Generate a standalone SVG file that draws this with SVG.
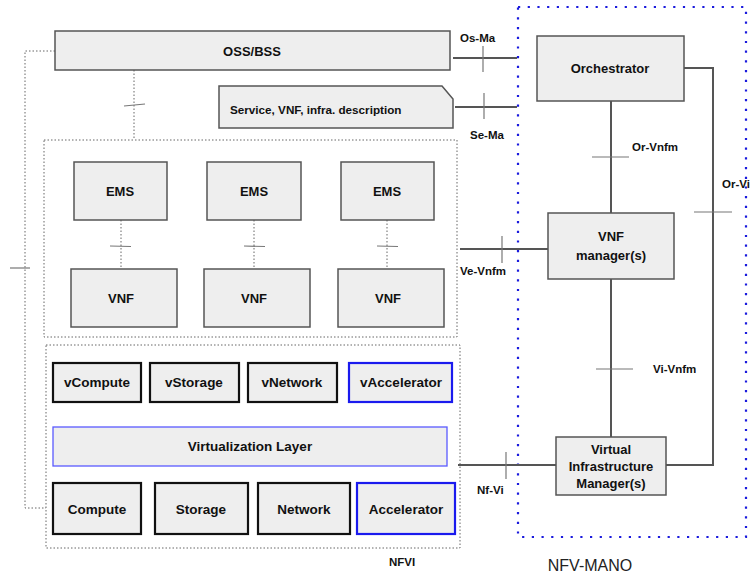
<svg xmlns="http://www.w3.org/2000/svg" width="750" height="576" viewBox="0 0 750 576">
<style>
text{font-family:"Liberation Sans",Arial,sans-serif;font-weight:bold;fill:#111;text-anchor:middle}
.box{fill:#eeeeee;stroke:#555;stroke-width:1.5}
.hw{fill:#eeeeee;stroke:#111;stroke-width:2.2}
.hwb{fill:#eeeeee;stroke:#1a1aee;stroke-width:2.2}
.vl{fill:#eeeeee;stroke:#5a5aff;stroke-width:1.3}
.dot{fill:none;stroke:#666;stroke-width:1;stroke-dasharray:1.5 2}
.mano{fill:none;stroke:#1a1add;stroke-width:2.2;stroke-dasharray:2.2 7.5}
.con{fill:none;stroke:#555;stroke-width:2}
.tick{fill:none;stroke:#777;stroke-width:1.2}
.lbl{font-size:11.5px;text-anchor:start}
.t12{font-size:13px}
.t13{font-size:13.5px}
</style>
<rect class="mano" x="518" y="7" width="228" height="530"/>
<text x="590" y="571" style="font-weight:normal;font-size:16px;fill:#222">NFV-MANO</text>
<rect class="dot" x="44" y="140" width="413" height="197"/>
<rect class="dot" x="46" y="345" width="414" height="203"/>
<text class="lbl" x="389" y="566">NFVI</text>
<g id="connectors">
<path class="dot" d="M55 51 H25 V508 H46"/>
<path class="tick" d="M10 268 H30"/>
<path class="dot" d="M134 70 V140"/>
<path class="tick" d="M124 106 L145 104"/>
<path class="dot" d="M121 220 V269"/>
<path class="tick" d="M110 246 L131 246.5"/>
<path class="dot" d="M254 220 V269"/>
<path class="tick" d="M244 246 L265 246.5"/>
<path class="dot" d="M387 220 V269"/>
<path class="tick" d="M377 246 L398 246.5"/>
<path class="con" d="M453 58 H517"/>
<path class="tick" d="M483 46 V72"/>
<path class="con" d="M455 107 H517"/>
<path class="tick" d="M484 93 V119"/>
<path class="con" d="M611 101 V213"/>
<path class="tick" d="M592 157 H629"/>
<path class="con" d="M684 68 H713 V465 H666"/>
<path class="tick" d="M694 212 H732"/>
<path class="con" d="M460 249 H548"/>
<path class="tick" d="M502 236 V263"/>
<path class="con" d="M611 279 V437"/>
<path class="tick" d="M596 369 H633"/>
<path class="con" d="M458 465 H556"/>
<path class="tick" d="M506 452 V479"/>
<text class="lbl" x="460" y="42">Os-Ma</text>
<text class="lbl" x="470" y="139">Se-Ma</text>
<text class="lbl" x="632" y="151">Or-Vnfm</text>
<text class="lbl" x="722" y="188">Or-Vi</text>
<text class="lbl" x="460" y="275">Ve-Vnfm</text>
<text class="lbl" x="653" y="373">Vi-Vnfm</text>
<text class="lbl" x="477" y="494">Nf-Vi</text>
</g>
<g id="oss"><rect class="box" x="55" y="31" width="395" height="39"/><text class="t12" x="252" y="56">OSS/BSS</text></g>
<g id="desc"><path class="box" d="M219 86 H442 L453 99 V128 H219 Z"/><text style="font-size:11.7px;text-anchor:start" x="230" y="114">Service, VNF, infra. description</text></g>
<g id="orch"><rect class="box" x="537" y="36" width="147" height="65"/><text class="t12" x="610" y="73">Orchestrator</text></g>
<g id="vnfm"><rect class="box" x="548" y="213" width="126" height="66"/><text class="t12" x="611" y="241">VNF</text><text class="t12" x="611" y="260">manager(s)</text></g>
<g id="vim"><rect class="box" x="556" y="437" width="110" height="58"/><text class="t12" x="611" y="454">Virtual</text><text class="t12" x="611" y="471">Infrastructure</text><text class="t12" x="611" y="488">Manager(s)</text></g>
<g id="ems1"><rect class="box" x="74" y="162" width="93" height="58"/><text class="t12" x="120" y="196">EMS</text></g>
<g id="ems2"><rect class="box" x="207" y="162" width="94" height="58"/><text class="t12" x="254" y="196">EMS</text></g>
<g id="ems3"><rect class="box" x="341" y="162" width="93" height="58"/><text class="t12" x="387" y="196">EMS</text></g>
<g id="vnf1"><rect class="box" x="71" y="269" width="106" height="58"/><text class="t12" x="121" y="303">VNF</text></g>
<g id="vnf2"><rect class="box" x="204" y="269" width="106" height="58"/><text class="t12" x="254" y="303">VNF</text></g>
<g id="vnf3"><rect class="box" x="338" y="269" width="106" height="58"/><text class="t12" x="388" y="303">VNF</text></g>
<g id="vcompute"><rect class="hw" x="53" y="363" width="88" height="39"/><text class="t13" x="97" y="387">vCompute</text></g>
<g id="vstorage"><rect class="hw" x="150" y="363" width="89" height="39"/><text class="t13" x="194" y="387">vStorage</text></g>
<g id="vnetwork"><rect class="hw" x="248" y="363" width="89" height="39"/><text class="t13" x="292" y="387">vNetwork</text></g>
<g id="vaccel"><rect class="hwb" x="349" y="363" width="103" height="39"/><text class="t13" x="401" y="387">vAccelerator</text></g>
<g id="virt"><rect class="vl" x="53" y="427" width="394" height="39"/><text class="t13" x="250" y="451">Virtualization Layer</text></g>
<g id="compute"><rect class="hw" x="53" y="483" width="88" height="51"/><text class="t13" x="97" y="514">Compute</text></g>
<g id="storage"><rect class="hw" x="155" y="483" width="93" height="51"/><text class="t13" x="201" y="514">Storage</text></g>
<g id="network"><rect class="hw" x="258" y="483" width="92" height="51"/><text class="t13" x="304" y="514">Network</text></g>
<g id="accel"><rect class="hwb" x="357" y="483" width="98" height="51"/><text class="t13" x="406" y="514">Accelerator</text></g>
</svg>
